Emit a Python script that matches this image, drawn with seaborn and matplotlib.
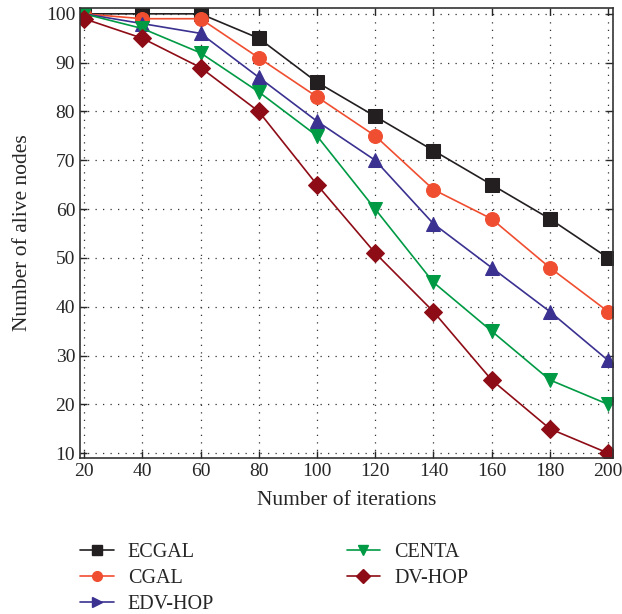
import pandas as pd
import matplotlib.pyplot as plt
import seaborn as sns
from matplotlib.lines import Line2D

iterations = [20, 40, 60, 80, 100, 120, 140, 160, 180, 200]
ecgal = [100, 100, 100, 95, 86, 79, 72, 65, 58, 50]
cgal = [100, 99, 99, 91, 83, 75, 64, 58, 48, 39]
edv_hop = [100, 98, 96, 87, 78, 70, 57, 48, 39, 29]
centa = [100, 97, 92, 84, 75, 60, 45, 35, 25, 20]
dv_hop = [99, 95, 89, 80, 65, 51, 39, 25, 15, 10]

series = [
    ('ECGAL', ecgal, '#231f20', 's', 's'),
    ('CGAL', cgal, '#f04e30', 'o', 'o'),
    ('EDV-HOP', edv_hop, '#3a3190', '^', '>'),
    ('CENTA', centa, '#009a44', 'v', 'v'),
    ('DV-HOP', dv_hop, '#8e0c16', 'D', 'D'),
]

sns.set_style('ticks')
plt.rcParams['font.family'] = ['Liberation Serif', 'DejaVu Serif']

fig = plt.figure(figsize=(6.22, 6.14), dpi=100)
ax = fig.add_axes([0.1286, 0.254, 0.857, 0.733])

handles = []
for name, vals, color, mk, legmk in series:
    df = pd.DataFrame({'iter': iterations, 'alive': vals})
    sns.lineplot(data=df, x='iter', y='alive', ax=ax, color=color, marker=mk,
                 markersize=10 if mk != 'D' else 9, markeredgecolor=color,
                 linewidth=1.2, legend=False)
    handles.append(Line2D([], [], color=color, marker=legmk, markersize=7,
                          markeredgecolor=color, linewidth=1.2, label=name))

ax.set_xlim(18.6, 201.7)
ax.set_ylim(9, 101.2)
ax.set_xticks(iterations)
ax.set_yticks(range(10, 101, 10))
ax.grid(True, color='#333333', linestyle=(0, (1, 5)), linewidth=0.9)
ax.tick_params(direction='in', top=True, right=True, labelsize=14, length=5, width=1)
for s in ax.spines.values():
    s.set_linewidth(1.2)
    s.set_color('#333333')
ax.set_xlabel('Number of iterations', fontsize=15.5, labelpad=8)
ax.set_ylabel('Number of alive nodes', fontsize=15.5, labelpad=10)

fig.legend(handles=handles, ncol=2, loc='upper left', bbox_to_anchor=(0.113, 0.132),
           frameon=False, fontsize=14.5, handlelength=1.65, handletextpad=0.7,
           columnspacing=6.6, labelspacing=0.35, borderpad=0)

plt.savefig('out.png', dpi=100)
